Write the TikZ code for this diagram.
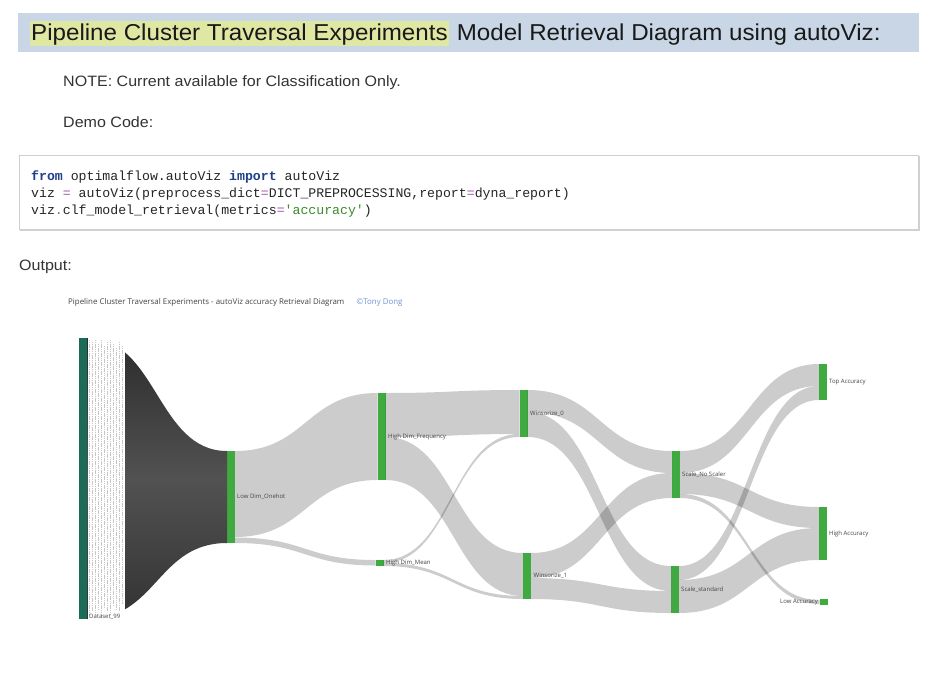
\documentclass[tikz,border=0pt]{standalone}
\usepackage{fontspec}
\setmainfont{Liberation Sans}
\newfontfamily\codefont{Liberation Mono}
\newfontfamily\plotfont{Open Sans}
\usetikzlibrary{calc}
\definecolor{hdrbg}{HTML}{C8D6E5}
\definecolor{hlite}{HTML}{DFE8A3}
\definecolor{bodytxt}{HTML}{333333}
\definecolor{kw}{HTML}{1F3F88}
\definecolor{opc}{HTML}{A457B0}
\definecolor{strc}{HTML}{3D8C2A}
\definecolor{nodegreen}{HTML}{3FAA3F}
\definecolor{dsteal}{HTML}{1C6B58}
\definecolor{lblc}{HTML}{444444}
\definecolor{credit}{HTML}{6E93D8}
\definecolor{codeborder}{HTML}{CFCFCF}
\tikzset{
  bar/.style={fill=nodegreen, draw=none, inner sep=0pt, outer sep=0pt, minimum width=8pt},
  linkfill/.style={fill=black, fill opacity=0.2},
  lbl/.style={font=\plotfont\fontsize{6}{7}\selectfont, text=lblc, inner sep=0pt, anchor=west},
  bodytext/.style={font=\fontsize{15}{17}\selectfont, text=bodytxt, inner sep=0pt, anchor=base west},
  codeline/.style={font=\codefont\fontsize{13.2}{15}\selectfont, text=black!85, inner sep=0pt, anchor=base west},
  hdrtext/.style={font=\fontsize{23}{26}\selectfont, text=black!90},
}
\newcommand\skband[7][linkfill]{%
  \path ($(#2.north east)+(0,#3)$) coordinate (s1)
        ($(#2.north east)+(0,#4)$) coordinate (s2)
        ($(#5.north west)+(0,#6)$) coordinate (t1)
        ($(#5.north west)+(0,#7)$) coordinate (t2)
        ($(s1)!0.5!(t1)$) coordinate (mm);
  \fill[#1] (s1) .. controls (mm |- s1) and (mm |- t1) .. (t1) -- (t2)
        .. controls (mm |- t2) and (mm |- s2) .. (s2) -- cycle;}
\newcommand\kwd[1]{{\bfseries\color{kw}#1}}
\newcommand\opr[1]{{\color{opc}#1}}
\newcommand\sq{\char"27}
\newcommand\wide[2][1.07]{\scalebox{#1}[1]{#2}}
\begin{document}
\begin{tikzpicture}[x=1pt,y=-1pt]
\useasboundingbox (0,0) rectangle (940,675);
\fill[white] (0,0) rectangle (940,675);

% header band
\fill[hdrbg] (18,13) rectangle (919,52);
\node[anchor=base west, fill=hlite, inner xsep=1pt, inner ysep=0pt, text height=19pt, text depth=6pt, hdrtext]
  (h1) at (30,40) {\wide[1.05]{Pipeline Cluster Traversal Experiments}};
\node[anchor=base west, inner sep=0pt, hdrtext] (h2)
  at ([xshift=1pt]h1.base east) {\wide[1.05]{\ Model Retrieval Diagram using autoViz:}};

% body text
\node[bodytext] (note) at (63,86) {\wide{NOTE: Current available for Classification Only.}};
\node[bodytext] (demo) at (63,127) {\wide{Demo Code:}};

% code box
\fill[black!18] (20,156) rectangle (919.5,230.5);
\filldraw[fill=white, draw=codeborder, line width=0.6pt] (19,155) rectangle (918,229);
\node[codeline] (c1) at (31,180) {\kwd{from} optimalflow.autoViz \kwd{import} autoViz};
\node[codeline] (c2) at (31,197) {viz \opr{=} autoViz(preprocess\_dict\opr{=}DICT\_PREPROCESSING,report\opr{=}dyna\_report)};
\node[codeline] (c3) at (31,214) {viz\opr{.}clf\_model\_retrieval(metrics\opr{=}{\color{strc}\sq accuracy\sq})};

\node[bodytext] (out) at (19,270) {\wide{Output:}};

% sankey title
\node[anchor=base west, inner sep=0pt, font=\plotfont\fontsize{7.9}{9}\selectfont, text=lblc] (ttl) at (68,304)
  {Pipeline Cluster Traversal Experiments - autoViz accuracy Retrieval Diagram};
\node[anchor=base west, inner sep=0pt, font=\plotfont\fontsize{7.9}{9}\selectfont, text=credit] (cred)
  at ([xshift=12pt]ttl.base east) {\char"00A9 Tony Dong};

% nodes
\node[bar, fill=dsteal, minimum height=281pt] (ds) at (83,478.5) {};
\node[bar, minimum height=92pt] (ld) at (231,497) {};
\node[bar, minimum height=87pt] (hdf) at (381.5,436.5) {};
\node[bar, minimum height=6pt] (hdm) at (379.5,563) {};
\node[bar, minimum height=47pt] (w0) at (523.5,413.5) {};
\node[bar, minimum height=46pt] (w1) at (527,576) {};
\node[bar, minimum height=47pt] (sns) at (676,474.5) {};
\node[bar, minimum height=47pt] (ss) at (675,589.5) {};
\node[bar, minimum height=36pt] (top) at (823,382) {};
\node[bar, minimum height=53pt] (high) at (823,533.5) {};
\node[bar, minimum height=6pt] (low) at (823.5,602) {};

% dark fan from datasets
\path (ds.north east) coordinate (f1) (ds.south east) coordinate (f2)
      (ld.north west) coordinate (f3) (ld.south west) coordinate (f4)
      ($(f1)!0.5!(f3)$) coordinate (fm);
\shade[top color=black!83, bottom color=black!80, middle color=black!68]
  (f1) .. controls (fm |- f1) and (fm |- f3) .. (f3) -- (f4)
  .. controls (fm |- f4) and (fm |- f2) .. (f2) -- cycle;
% column of stacked dataset labels
\fill[white] (87.5,336) rectangle (124.5,622);
\foreach \x/\a/\b in {89/340/616,92/342/612,95/340/614,98/344/610,101/340/616,104/346/608,107/342/612,110/340/614,113/344/606,116/348/610,119/342/612,122/346/604}
  \draw[black!22, line width=0.5pt, dash pattern=on 1.2pt off 0.6pt] (\x,\a) -- (\x,\b);

% links
\skband{ld}{0}{86}{hdf}{0}{87}
\skband{ld}{86.5}{92}{hdm}{0}{5.5}
\skband{hdf}{0}{44}{w0}{0}{44}
\skband{hdf}{44}{87}{w1}{0}{43}
\skband{hdm}{0}{3}{w0}{44}{47}
\skband{hdm}{3}{6}{w1}{43}{46}
\skband{w0}{0}{22}{sns}{0}{22}
\skband{w0}{22}{47}{ss}{0}{25}
\skband{w1}{0}{25}{sns}{22}{47}
\skband{w1}{25}{46}{ss}{25}{47}
\skband{sns}{0}{22}{top}{0}{22}
\skband{sns}{22}{43}{high}{0}{21}
\skband{sns}{43}{47}{low}{1}{5}
\skband{ss}{0}{14}{top}{22}{36}
\skband{ss}{14}{47}{high}{21}{53}

% labels
\node[lbl] (dsl) at (89,617) {Dataset\_99};
\node[lbl] (ldl) at ([xshift=2pt]ld.east) {Low Dim\_Onehot};
\node[lbl] (hdfl) at ([xshift=2.5pt]hdf.east) {High Dim\_Frequency};
\node[lbl] (hdml) at ([xshift=2.5pt]hdm.east) {High Dim\_Mean};
\node[lbl] (w0l) at ([xshift=2.5pt]w0.east) {Winsorize\_0};
\node[lbl] (w1l) at ([xshift=2.5pt]w1.east) {Winsorize\_1};
\node[lbl] (snsl) at ([xshift=2pt]sns.east) {Scale\_No Scaler};
\node[lbl] (ssl) at ([xshift=2pt]ss.east) {Scale\_standard};
\node[lbl] (topl) at ([xshift=2pt]top.east) {Top Accuracy};
\node[lbl] (highl) at ([xshift=2pt]high.east) {High Accuracy};
\node[lbl, anchor=east] (lowl) at ([xshift=-1.5pt]low.west) {Low Accuracy};
\end{tikzpicture}
\end{document}
